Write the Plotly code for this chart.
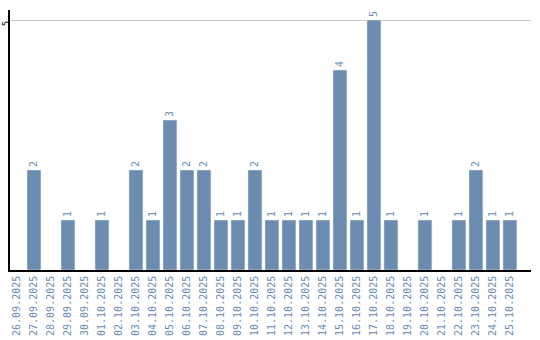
import plotly.graph_objects as go

dates = ["26.09.2025", "27.09.2025", "28.09.2025", "29.09.2025", "30.09.2025",
         "01.10.2025", "02.10.2025", "03.10.2025", "04.10.2025", "05.10.2025",
         "06.10.2025", "07.10.2025", "08.10.2025", "09.10.2025", "10.10.2025",
         "11.10.2025", "12.10.2025", "13.10.2025", "14.10.2025", "15.10.2025",
         "16.10.2025", "17.10.2025", "18.10.2025", "19.10.2025", "20.10.2025",
         "21.10.2025", "22.10.2025", "23.10.2025", "24.10.2025", "25.10.2025"]
counts = [0, 2, 0, 1, 0, 1, 0, 2, 1, 3, 2, 2, 1, 1, 2, 1, 1, 1, 1, 4,
          1, 5, 1, 0, 1, 0, 1, 2, 1, 1]

color = "#6b8cae"
labels = [str(v) if v > 0 else "" for v in counts]

fig = go.Figure(go.Bar(
    x=dates, y=counts, marker_color=color, text=labels,
    textposition="outside", textangle=-90, cliponaxis=False,
    textfont=dict(family="DejaVu Sans Mono", size=10, color=color),
))
fig.update_layout(
    width=540, height=340, margin=dict(l=10, r=9, t=10, b=70, autoexpand=False),
    plot_bgcolor="white", paper_bgcolor="white", bargap=0.18,
    showlegend=False,
)
fig.update_xaxes(type="category", range=[-0.41, 30.24], tickangle=-90,
                 showline=True, linecolor="black", linewidth=1.5,
                 ticks="", showgrid=False, automargin=False,
                 tickfont=dict(family="DejaVu Sans Mono", size=10, color=color))
fig.update_yaxes(range=[0, 5.2], tickvals=[5], ticktext=["5"], tickangle=-90,
                 showline=True, linecolor="black", linewidth=1.5,
                 showgrid=True, gridcolor="#cccccc", zeroline=False, ticks="",
                 automargin=False, ticklabelstandoff=-4, ticklabelshift=5,
                 tickfont=dict(family="DejaVu Sans Mono", size=9, color="black"))
fig.write_html("out.html")
